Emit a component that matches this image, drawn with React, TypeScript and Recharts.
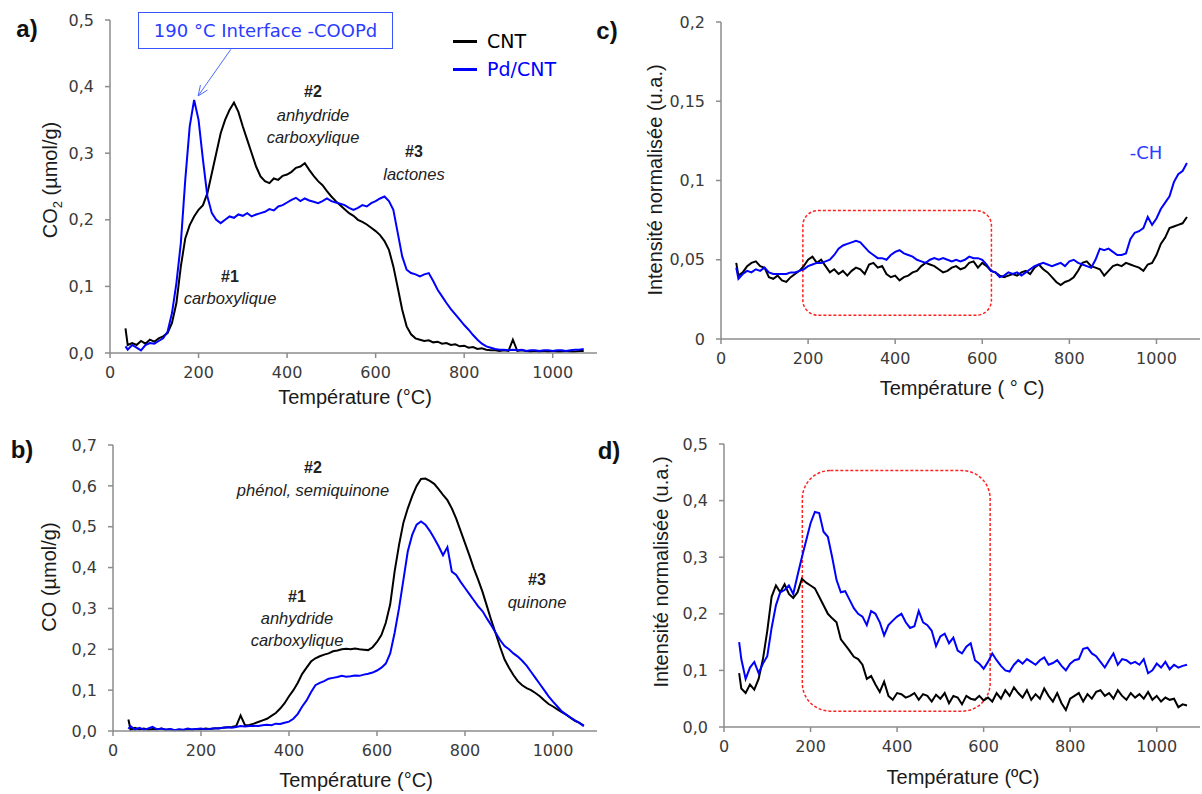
import { LineChart, Line, XAxis, YAxis, ReferenceArea, ReferenceLine, Legend } from 'recharts'
import type { CSSProperties, ReactNode } from 'react'

// temperature grid (°C), shared by the four panels
const temps = [
  35, 40, 50, 60, 70, 80, 90,
  100, 110, 120, 130, 140, 150, 160, 170, 180, 190,
  200, 210, 220, 230, 240, 250, 260, 270, 280, 290,
  300, 310, 320, 330, 340, 350, 360, 370, 380, 390,
  400, 410, 420, 430, 440, 450, 460, 470, 480, 490,
  500, 510, 520, 530, 540, 550, 560, 570, 580, 590,
  600, 610, 620, 630, 640, 650, 660, 670, 680, 690,
  700, 710, 720, 730, 740, 750, 760, 770, 780, 790,
  800, 810, 820, 830, 840, 850, 860, 870, 880, 890,
  900, 910, 920, 930, 940, 950, 960, 970, 980, 990,
  1000, 1010, 1020, 1030, 1040, 1050, 1060, 1070,
]

// a) CO2 (µmol/g)
const co2Cnt = [
  0.037, 0.012, 0.015, 0.012, 0.018, 0.014, 0.02,
  0.017, 0.022, 0.025, 0.03, 0.045, 0.075, 0.13, 0.172, 0.192, 0.205,
  0.215, 0.222, 0.24, 0.27, 0.3, 0.33, 0.35, 0.365, 0.376, 0.362,
  0.34, 0.32, 0.3, 0.28, 0.265, 0.258, 0.255, 0.262, 0.26, 0.266,
  0.268, 0.272, 0.278, 0.28, 0.285, 0.275, 0.266, 0.258, 0.252, 0.243,
  0.235, 0.228, 0.222, 0.216, 0.21, 0.206, 0.2, 0.197, 0.193, 0.188,
  0.183, 0.177, 0.168, 0.155, 0.13, 0.098, 0.065, 0.04, 0.028, 0.022,
  0.02, 0.018, 0.019, 0.016, 0.017, 0.014, 0.015, 0.012, 0.013, 0.01,
  0.011, 0.008, 0.009, 0.006, 0.007, 0.005, 0.004, 0.004, 0.003, 0.004,
  0.003, 0.02, 0.003, 0.004, 0.003, 0.002, 0.003, 0.002, 0.003, 0.002,
  0.003, 0.002, 0.002, 0.003, 0.002, 0.002, 0.003, 0.003,
]
const co2Pd = [
  0.01, 0.005, 0.012, 0.008, 0.004, 0.012, 0.015,
  0.014, 0.018, 0.022, 0.032, 0.06, 0.105, 0.165, 0.26, 0.34, 0.38,
  0.35, 0.29, 0.235, 0.21, 0.2, 0.195, 0.2, 0.205, 0.203, 0.208,
  0.206, 0.21, 0.205, 0.208, 0.21, 0.212, 0.216, 0.214, 0.22, 0.222,
  0.226, 0.23, 0.233, 0.228, 0.232, 0.229, 0.227, 0.225, 0.228, 0.232,
  0.228, 0.226, 0.224, 0.222, 0.218, 0.215, 0.218, 0.222, 0.22, 0.225,
  0.228, 0.232, 0.235, 0.228, 0.215, 0.18, 0.145, 0.125, 0.12, 0.118,
  0.115, 0.118, 0.12, 0.108, 0.095, 0.085, 0.075, 0.066, 0.058, 0.05,
  0.042, 0.035, 0.027, 0.02, 0.014, 0.01, 0.008, 0.006, 0.005, 0.005,
  0.004, 0.005, 0.004, 0.005, 0.003, 0.004, 0.004, 0.003, 0.004, 0.004,
  0.003, 0.004, 0.004, 0.003, 0.004, 0.005, 0.005, 0.006,
]

// b) CO (µmol/g)
const coCnt = [
  0.028, 0.003, 0.008, 0.004, 0.006, 0.003, 0.005,
  0.004, 0.006, 0.003, 0.004, 0.002, 0.003, 0.002, 0.004, 0.003, 0.005,
  0.004, 0.006, 0.005, 0.006, 0.007, 0.008, 0.009, 0.01, 0.012, 0.038,
  0.014, 0.015, 0.018, 0.022, 0.026, 0.03, 0.037, 0.044, 0.055, 0.068,
  0.085, 0.1, 0.118, 0.14, 0.155, 0.17, 0.178, 0.183, 0.187, 0.19,
  0.195, 0.197, 0.2, 0.201, 0.2, 0.202, 0.2, 0.199, 0.198, 0.205,
  0.218, 0.235, 0.265, 0.31, 0.39, 0.455, 0.51, 0.545, 0.575, 0.6,
  0.617, 0.618, 0.612, 0.605, 0.592, 0.578, 0.565, 0.545, 0.52, 0.49,
  0.46, 0.43, 0.398, 0.37, 0.34, 0.305, 0.27, 0.238, 0.205, 0.175,
  0.155, 0.137, 0.122, 0.112, 0.105, 0.1, 0.093, 0.085, 0.075, 0.066,
  0.06, 0.053, 0.046, 0.04, 0.032, 0.025, 0.02, 0.013,
]
const coPd = [
  0.005, 0.012, 0.003, 0.008, 0.003, 0.006, 0.01,
  0.004, 0.006, 0.003, 0.005, 0.002, 0.004, 0.003, 0.006, 0.004, 0.005,
  0.006, 0.004, 0.005, 0.007, 0.006, 0.008, 0.009, 0.008, 0.01, 0.012,
  0.011, 0.012, 0.013, 0.012, 0.014, 0.015, 0.014, 0.018, 0.017, 0.02,
  0.023, 0.03, 0.042, 0.06, 0.075, 0.095, 0.112, 0.118, 0.122, 0.128,
  0.13, 0.132, 0.135, 0.133, 0.134, 0.136, 0.135, 0.138, 0.14, 0.143,
  0.148, 0.155, 0.165, 0.19, 0.24, 0.3, 0.37, 0.44, 0.48, 0.505,
  0.513, 0.505, 0.49, 0.472, 0.452, 0.43, 0.45, 0.39, 0.382, 0.365,
  0.35, 0.335, 0.32, 0.305, 0.293, 0.275, 0.258, 0.24, 0.222, 0.208,
  0.2, 0.19, 0.182, 0.172, 0.16, 0.145, 0.13, 0.115, 0.1, 0.085,
  0.072, 0.06, 0.048, 0.04, 0.033, 0.026, 0.02, 0.012,
]

// c) -CH, intensité normalisée
const chCnt = [
  0.048, 0.04, 0.042, 0.046, 0.048, 0.049, 0.046,
  0.045, 0.039, 0.038, 0.04, 0.037, 0.036, 0.039, 0.041, 0.043, 0.046,
  0.05, 0.052, 0.048, 0.05, 0.046, 0.042, 0.044, 0.041, 0.043, 0.04,
  0.043, 0.045, 0.044, 0.041, 0.047, 0.048, 0.045, 0.046, 0.041, 0.039,
  0.04, 0.037, 0.039, 0.04, 0.042, 0.043, 0.046, 0.048, 0.047, 0.046,
  0.044, 0.042, 0.043, 0.045, 0.046, 0.044, 0.045, 0.048, 0.049, 0.045,
  0.048, 0.046, 0.043, 0.042, 0.04, 0.039, 0.04, 0.041, 0.04, 0.042,
  0.043, 0.041, 0.045, 0.047, 0.044, 0.042, 0.039, 0.036, 0.034, 0.036,
  0.037, 0.039, 0.043, 0.048, 0.049, 0.046, 0.045, 0.044, 0.04, 0.043,
  0.046, 0.047, 0.046, 0.048, 0.047, 0.046, 0.045, 0.043, 0.047, 0.048,
  0.053, 0.06, 0.064, 0.07, 0.071, 0.072, 0.073, 0.077,
]
const chPd = [
  0.045, 0.038, 0.041, 0.043, 0.042, 0.044, 0.043,
  0.045, 0.042, 0.041, 0.041, 0.041, 0.041, 0.042, 0.042, 0.043, 0.044,
  0.046, 0.047, 0.048, 0.048, 0.049, 0.05, 0.053, 0.057, 0.059, 0.06,
  0.061, 0.062, 0.061, 0.058, 0.055, 0.053, 0.051, 0.051, 0.05, 0.053,
  0.055, 0.056, 0.054, 0.053, 0.052, 0.05, 0.049, 0.048, 0.05, 0.051,
  0.05, 0.051, 0.05, 0.049, 0.05, 0.049, 0.05, 0.052, 0.051, 0.051,
  0.05, 0.047, 0.043, 0.042, 0.039, 0.04, 0.042, 0.041, 0.042, 0.04,
  0.042, 0.044, 0.046, 0.047, 0.048, 0.047, 0.046, 0.047, 0.048, 0.046,
  0.049, 0.05, 0.048, 0.047, 0.046, 0.045, 0.05, 0.057, 0.056, 0.057,
  0.055, 0.053, 0.053, 0.054, 0.063, 0.067, 0.068, 0.07, 0.077, 0.072,
  0.076, 0.082, 0.086, 0.09, 0.099, 0.104, 0.106, 0.111,
]

// d) intensité normalisée
const dCnt = [
  0.095, 0.068, 0.06, 0.075, 0.066, 0.085, 0.12,
  0.17, 0.23, 0.25, 0.238, 0.252, 0.235, 0.228, 0.238, 0.262, 0.255,
  0.25, 0.245, 0.23, 0.215, 0.2, 0.192, 0.185, 0.155, 0.145, 0.135,
  0.124, 0.12, 0.11, 0.085, 0.09, 0.075, 0.062, 0.08, 0.055, 0.048,
  0.06, 0.058, 0.052, 0.055, 0.06, 0.048, 0.058, 0.055, 0.045, 0.057,
  0.05, 0.06, 0.042, 0.055, 0.052, 0.04, 0.055, 0.05, 0.048, 0.055,
  0.047, 0.052, 0.045, 0.06, 0.05, 0.065, 0.055, 0.07, 0.06, 0.052,
  0.065, 0.048, 0.058, 0.05, 0.068, 0.055, 0.045, 0.06, 0.042, 0.03,
  0.05, 0.055, 0.06, 0.045, 0.058, 0.05, 0.062, 0.065, 0.055, 0.06,
  0.05, 0.065, 0.055, 0.048, 0.06, 0.052, 0.058, 0.05, 0.062, 0.048,
  0.055, 0.045, 0.052, 0.048, 0.05, 0.035, 0.04, 0.038,
]
const dPd = [
  0.15, 0.12, 0.085, 0.105, 0.115, 0.095, 0.112,
  0.125, 0.175, 0.215, 0.238, 0.242, 0.25, 0.235, 0.268, 0.3, 0.33,
  0.36, 0.38, 0.378, 0.345, 0.336, 0.3, 0.26, 0.238, 0.24, 0.225,
  0.21, 0.2, 0.195, 0.18, 0.205, 0.2, 0.185, 0.162, 0.18, 0.188,
  0.195, 0.2, 0.185, 0.175, 0.178, 0.205, 0.185, 0.18, 0.17, 0.143,
  0.16, 0.165, 0.148, 0.158, 0.135, 0.13, 0.142, 0.148, 0.118, 0.112,
  0.103, 0.115, 0.13, 0.118, 0.108, 0.1, 0.098, 0.11, 0.118, 0.112,
  0.12, 0.115, 0.11, 0.118, 0.123, 0.11, 0.113, 0.118, 0.108, 0.1,
  0.112, 0.118, 0.12, 0.138, 0.14, 0.13, 0.125, 0.115, 0.105, 0.118,
  0.13, 0.11, 0.12, 0.118, 0.112, 0.115, 0.11, 0.12, 0.095, 0.1,
  0.112, 0.105, 0.115, 0.102, 0.11, 0.105, 0.108, 0.11,
]

const xTicks = [0, 200, 400, 600, 800, 1000]
const ticks05 = [0, 0.1, 0.2, 0.3, 0.4, 0.5]
const ticks07 = [0, 0.1, 0.2, 0.3, 0.4, 0.5, 0.6, 0.7]
const ticks02 = [0, 0.05, 0.1, 0.15, 0.2]

const AXIS = '#8c8c8c'
const BLUE = '#0000ff'
const RED = '#ff2020'
const tickStyle = { fontFamily: 'DejaVu Sans', fontSize: 16, fill: '#3a3a3a' }

const fmt1 = (v: number) => v.toFixed(1).replace('.', ',')
const fmtG = (v: number) => String(v).replace('.', ',')

const rows = (cnt: number[], pd: number[]) => temps.map((t, i) => ({ t, cnt: cnt[i], pd: pd[i] }))

interface PanelProps {
  left: number
  top: number
  width: number
  height: number
  margin: { top: number; right: number; bottom: number; left: number }
  yWidth: number
  yMax: number
  yTicks: number[]
  fmt: (v: number) => string
  cnt: number[]
  pd: number[]
  children?: ReactNode
}

function Panel({ left, top, width, height, margin, yWidth, yMax, yTicks, fmt, cnt, pd, children }: PanelProps) {
  return (
    <div style={{ position: 'absolute', left, top }}>
      <LineChart width={width} height={height} data={rows(cnt, pd)} margin={margin}>
        <XAxis type="number" dataKey="t" domain={[0, 1100]} ticks={xTicks} interval={0} height={40}
          stroke={AXIS} strokeWidth={1.5} tick={tickStyle} tickSize={5} tickMargin={9} />
        <YAxis type="number" domain={[0, yMax]} ticks={yTicks} interval={0} width={yWidth}
          stroke={AXIS} strokeWidth={1.5} tick={tickStyle} tickSize={5} tickMargin={11} tickFormatter={fmt} />
        {children}
        <Line type="linear" dataKey="cnt" name="CNT" stroke="#000" strokeWidth={2} dot={false} isAnimationActive={false} />
        <Line type="linear" dataKey="pd" name="Pd/CNT" stroke={BLUE} strokeWidth={2} dot={false} isAnimationActive={false} />
      </LineChart>
    </div>
  )
}

// dashed rounded box used in c) and d)
const roundBox = (r: number) => (p: any) => (
  <rect x={p.x} y={p.y} width={p.width} height={p.height} rx={r} ry={r}
    fill="none" stroke={RED} strokeWidth={1.5} strokeDasharray="3 2" />
)

// thin arrow from the callout box to the Pd/CNT peak
const arrow = (p: any) => {
  const { x1, y1, x2, y2 } = p
  const a = Math.atan2(y2 - y1, x2 - x1)
  const L = 11
  const h1 = `${x2 - L * Math.cos(a - 0.4)},${y2 - L * Math.sin(a - 0.4)}`
  const h2 = `${x2 - L * Math.cos(a + 0.4)},${y2 - L * Math.sin(a + 0.4)}`
  return (
    <g>
      <line x1={x1} y1={y1} x2={x2} y2={y2} stroke="#4a6cff" strokeWidth={1} />
      <polyline points={`${h1} ${x2},${y2} ${h2}`} fill="none" stroke="#4a6cff" strokeWidth={1} />
    </g>
  )
}

const legendContent = (props: any) => (
  <div style={{ fontFamily: 'DejaVu Sans', fontSize: 19 }}>
    {(props.payload || []).map((e: any) => (
      <div key={e.value} style={{ display: 'flex', alignItems: 'center', height: 28, color: e.color }}>
        <span style={{ display: 'inline-block', width: 24, height: 3, background: e.color, marginRight: 10 }} />
        {e.value}
      </div>
    ))}
  </div>
)

function T({ x, y, children, style, rot }: { x: number; y: number; children: ReactNode; style?: CSSProperties; rot?: boolean }) {
  return (
    <div style={{
      position: 'absolute', left: x, top: y, whiteSpace: 'nowrap', lineHeight: 1,
      transform: `translate(-50%, -50%)${rot ? ' rotate(-90deg)' : ''}`, ...style,
    }}>{children}</div>
  )
}

const title: CSSProperties = { fontFamily: 'Liberation Sans', fontSize: 20, color: '#1a1a1a' }
const letter: CSSProperties = { fontFamily: 'Liberation Sans', fontSize: 24, fontWeight: 700, color: '#111' }
const num: CSSProperties = { fontFamily: 'Liberation Sans', fontSize: 16, fontWeight: 700, color: '#222' }
const it: CSSProperties = { fontFamily: 'Liberation Sans', fontSize: 16.5, fontStyle: 'italic', color: '#222' }

export default function App() {
  return (
    <div style={{ position: 'absolute', left: 0, top: 0, width: 1202, height: 794, background: '#fff', overflow: 'hidden' }}>
      <Panel left={0} top={0} width={600} height={410} margin={{ top: 20, right: 3, bottom: 17, left: 0 }}
        yWidth={110} yMax={0.5} yTicks={ticks05} fmt={fmt1} cnt={co2Cnt} pd={co2Pd}>
        <ReferenceLine segment={[{ x: 273, y: 0.456 }, { x: 199, y: 0.386 }]} ifOverflow="visible" shape={arrow} />
        <Legend layout="vertical" align="center" verticalAlign="middle" content={legendContent}
          wrapperStyle={{ left: 453, top: 27, width: 140 }} />
      </Panel>
      <Panel left={0} top={420} width={600} height={374} margin={{ top: 25, right: 3, bottom: 23, left: 0 }}
        yWidth={113} yMax={0.7} yTicks={ticks07} fmt={fmt1} cnt={coCnt} pd={coPd} />
      <Panel left={600} top={0} width={602} height={410} margin={{ top: 22, right: 2, bottom: 31, left: 0 }}
        yWidth={121} yMax={0.2} yTicks={ticks02} fmt={fmtG} cnt={chCnt} pd={chPd}>
        <ReferenceArea x1={188} x2={621} y1={0.015} y2={0.081} ifOverflow="visible" shape={roundBox(15)} />
      </Panel>
      <Panel left={600} top={420} width={602} height={374} margin={{ top: 24, right: 2, bottom: 27, left: 0 }}
        yWidth={124} yMax={0.5} yTicks={ticks05} fmt={fmt1} cnt={dCnt} pd={dPd}>
        <ReferenceArea x1={181} x2={615} y1={0.028} y2={0.453} ifOverflow="visible" shape={roundBox(28)} />
      </Panel>

      {/* panel letters */}
      <T x={27} y={29} style={letter}>a)</T>
      <T x={22} y={450} style={letter}>b)</T>
      <T x={607} y={31} style={letter}>c)</T>
      <T x={609} y={451} style={letter}>d)</T>

      {/* axis titles */}
      <T x={52} y={180} rot style={title}>CO<sub style={{ fontSize: 13 }}>2</sub> (µmol/g)</T>
      <T x={355} y={397} style={title}>Température (°C)</T>
      <T x={49} y={577} rot style={title}>CO (µmol/g)</T>
      <T x={356} y={780} style={title}>Température (°C)</T>
      <T x={655} y={180} rot style={title}>Intensité normalisée (u.a.)</T>
      <T x={962} y={388} style={title}>Température ( ° C)</T>
      <T x={661} y={572} rot style={title}>Intensité normalisée (u.a.)</T>
      <T x={963} y={777} style={title}>Température (ºC)</T>

      {/* callout a) */}
      <div style={{
        position: 'absolute', left: 138, top: 12, width: 255, height: 37, boxSizing: 'border-box',
        border: '1.5px solid #3a55ff', display: 'flex', alignItems: 'center', justifyContent: 'center',
        fontFamily: 'DejaVu Sans', fontSize: 18, color: '#2a3cff', background: '#fff',
      }}>190 °C Interface -COOPd</div>

      {/* annotations a) */}
      <T x={313} y={92} style={num}>#2</T>
      <T x={313} y={115} style={it}>anhydride</T>
      <T x={313} y={137} style={it}>carboxylique</T>
      <T x={414} y={152} style={num}>#3</T>
      <T x={414} y={174} style={it}>lactones</T>
      <T x={230} y={277} style={num}>#1</T>
      <T x={230} y={298} style={it}>carboxylique</T>

      {/* annotations b) */}
      <T x={313} y={468} style={num}>#2</T>
      <T x={313} y={490} style={it}>phénol, semiquinone</T>
      <T x={297} y={597} style={num}>#1</T>
      <T x={297} y={618} style={it}>anhydride</T>
      <T x={297} y={640} style={it}>carboxylique</T>
      <T x={537} y={580} style={num}>#3</T>
      <T x={537} y={602} style={it}>quinone</T>

      {/* c) */}
      <T x={1146} y={153} style={{ fontFamily: 'DejaVu Sans', fontSize: 18, color: '#2a3cff' }}>-CH</T>
    </div>
  )
}
